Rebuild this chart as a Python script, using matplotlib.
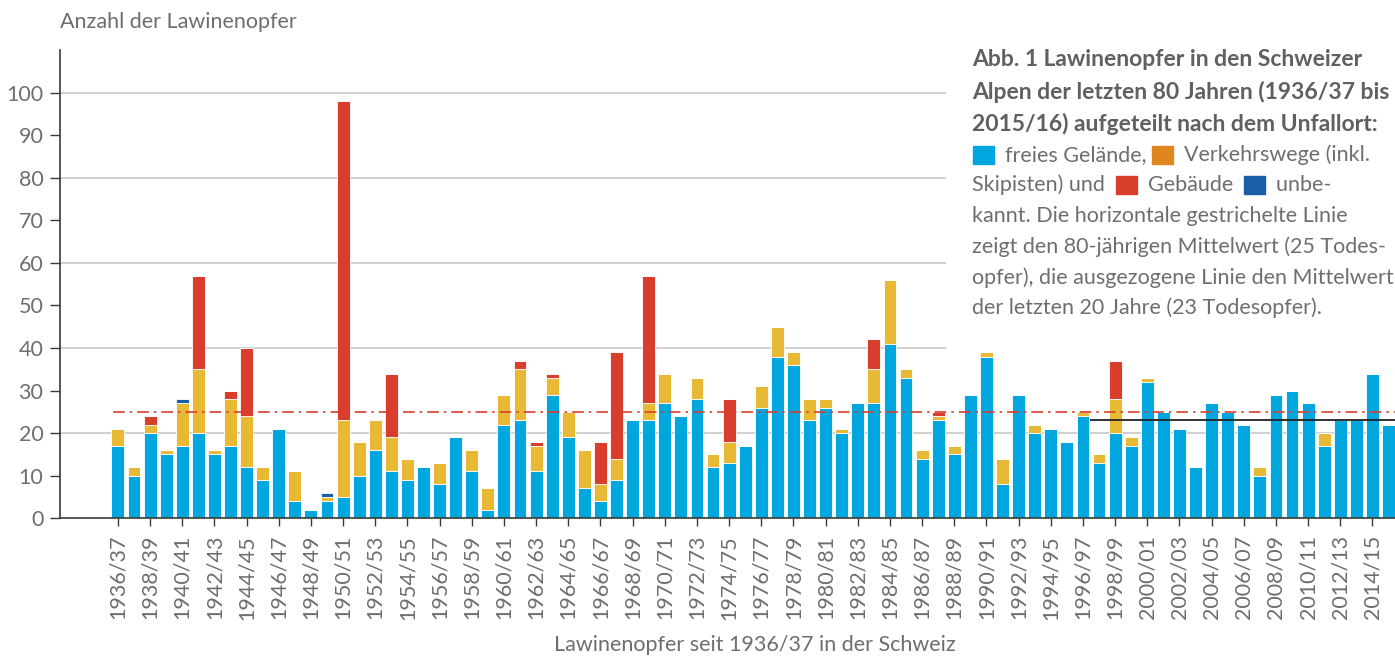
import numpy as np
import matplotlib.pyplot as plt
from matplotlib.patches import Rectangle
from matplotlib.transforms import IdentityTransform

plt.rcParams['font.family'] = ['Lato', 'DejaVu Sans']

# Saisons 1936/37 .. 2015/16
start_years = list(range(1936, 2016))
seasons = [f"{y}/{str(y + 1)[-2:]}" for y in start_years]

# Lawinenopfer nach Unfallort
gelaende = [17, 10, 20, 15, 17, 20, 15, 17, 12, 9,
            21, 4, 2, 4, 5, 10, 16, 11, 9, 12,
            8, 19, 11, 2, 22, 23, 11, 29, 19, 7,
            4, 9, 23, 23, 27, 24, 28, 12, 13, 17,
            26, 38, 36, 23, 26, 20, 27, 27, 41, 33,
            14, 23, 15, 29, 38, 8, 29, 20, 21, 18,
            24, 13, 20, 17, 32, 25, 21, 12, 27, 25,
            22, 10, 29, 30, 27, 17, 23, 23, 34, 22]
verkehrswege = [4, 2, 2, 1, 10, 15, 1, 11, 12, 3,
                0, 7, 0, 1, 18, 8, 7, 8, 5, 0,
                5, 0, 5, 5, 7, 12, 6, 4, 6, 9,
                4, 5, 0, 4, 7, 0, 5, 3, 5, 0,
                5, 7, 3, 5, 2, 1, 0, 8, 15, 2,
                2, 1, 2, 0, 1, 6, 0, 2, 0, 0,
                1, 2, 8, 2, 1, 0, 0, 0, 0, 0,
                0, 2, 0, 0, 0, 3, 0, 0, 0, 0]
gebaeude = [0, 0, 2, 0, 0, 22, 0, 2, 16, 0,
            0, 0, 0, 0, 75, 0, 0, 15, 0, 0,
            0, 0, 0, 0, 0, 2, 1, 1, 0, 0,
            10, 25, 0, 30, 0, 0, 0, 0, 10, 0,
            0, 0, 0, 0, 0, 0, 0, 7, 0, 0,
            0, 1, 0, 0, 0, 0, 0, 0, 0, 0,
            0, 0, 9, 0, 0, 0, 0, 0, 0, 0,
            0, 0, 0, 0, 0, 0, 0, 0, 0, 0]
unbekannt = [0, 0, 0, 0, 1, 0, 0, 0, 0, 0,
             0, 0, 0, 1, 0, 0, 0, 0, 0, 0] + [0] * 60

mittel_80 = 25   # 80-jaehriger Mittelwert
mittel_20 = 23   # Mittelwert der letzten 20 Jahre
start_20 = 1996  # Beginn der letzten 20 Jahre

c_blue = '#00a6de'
c_yellow = '#e8b935'
c_red = '#d93e2c'
c_dark = '#1b5ea8'
c_orange = '#e0861f'
c_text = '#6d6e70'

W, H = 1395, 657
fig = plt.figure(figsize=(W / 100, H / 100), dpi=100)
ax = fig.add_axes([60 / W, 1 - 518.3 / H, 1 - 60 / W, (518.3 - 50) / H])

x = np.arange(len(seasons))
bottom = np.zeros(len(x))
for vals, col in [(gelaende, c_blue), (verkehrswege, c_yellow),
                  (gebaeude, c_red), (unbekannt, c_dark)]:
    vals = np.array(vals, dtype=float)
    ax.bar(x, vals, 0.8, bottom=bottom, color=col, edgecolor='white',
           linewidth=0.6, zorder=2)
    bottom += vals

x_lo, x_hi = -3.6, 79.4
ax.set_xlim(x_lo, x_hi)
ax.set_ylim(0, 110)

# Gitterlinien (oben vom Textblock unterbrochen)
ax.hlines([40, 60, 80, 100], x_lo, 51.5, color='#c8c8c8', lw=1.2, zorder=1)
ax.hlines(20, x_lo, x_hi, color='#c8c8c8', lw=1.2, zorder=1)

# Mittelwerte
ax.hlines(mittel_80, -0.3, x_hi, color=c_red, lw=1.2,
          linestyles=(0, (7, 3, 1.5, 3)), zorder=3)
i20 = start_years.index(start_20)
ax.hlines(mittel_20, i20 + 0.45, x_hi, color='#222222', lw=1.3, zorder=3)

for s in ['top', 'right']:
    ax.spines[s].set_visible(False)
for s in ['left', 'bottom']:
    ax.spines[s].set_color('#3a3a3a')
    ax.spines[s].set_linewidth(1.2)

ax.set_yticks(range(0, 101, 10))
ax.set_xticks(x[::2])
ax.set_xticklabels(seasons[::2], rotation=90)
ax.tick_params(axis='y', length=7, width=1, color='#3a3a3a',
               labelcolor=c_text, labelsize=15.5, pad=5)
ax.tick_params(axis='x', length=6, width=1, color='#3a3a3a',
               labelcolor=c_text, labelsize=15.5, pad=6)

fig.text(60 / W, 1 - 22 / H, 'Anzahl der Lawinenopfer', ha='left',
         va='center', fontsize=15.5, color=c_text)
fig.text(755 / W, 1 - 645 / H, 'Lawinenopfer seit 1936/37 in der Schweiz',
         ha='center', va='center', fontsize=15.5, color=c_text)

# Textblock mit Legende
fig.canvas.draw()
rend = fig.canvas.get_renderer()
px = IdentityTransform()
tx = 972

def put_line(y_top, parts, bold=False):
    xp = tx
    yp = H - y_top
    for p in parts:
        if isinstance(p, tuple):
            gap, col = p
            xp += gap
            fig.patches.append(Rectangle((xp, yp - 9), 21, 18, color=col,
                                         transform=px, figure=fig))
            xp += 21
        else:
            t = fig.text(xp, yp, p, transform=px, ha='left', va='center',
                         fontsize=16.5 if bold else 15.5,
                         color='#5f6062' if bold else c_text,
                         fontweight='bold' if bold else 'normal')
            xp = t.get_window_extent(rend).x1

put_line(60, ['Abb. 1 Lawinenopfer in den Schweizer'], bold=True)
put_line(92, ['Alpen der letzten 80 Jahren (1936/37 bis'], bold=True)
put_line(124, ['2015/16) aufgeteilt nach dem Unfallort:'], bold=True)
put_line(155, [(1, c_blue), '  freies Gelände, ', (0, c_orange), '  Verkehrswege (inkl.'])
put_line(185, ['Skipisten) und  ', (0, c_red), '  Gebäude  ', (0, c_dark), '  unbe-'])
put_line(216, ['kannt. Die horizontale gestrichelte Linie'])
put_line(247, ['zeigt den 80-jährigen Mittelwert (25 Todes-'])
put_line(278, ['opfer), die ausgezogene Linie den Mittelwert'])
put_line(308, ['der letzten 20 Jahre (23 Todesopfer).'])

fig.savefig('out.png', dpi=100)
